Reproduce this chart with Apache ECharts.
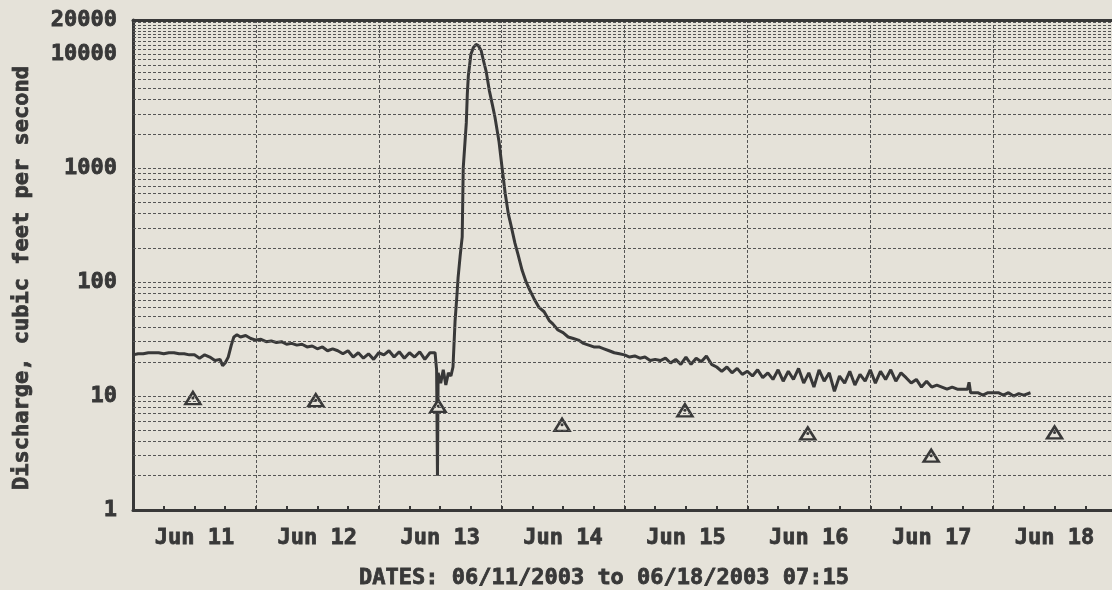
<!DOCTYPE html>
<html>
<head>
<meta charset="utf-8">
<script src="https://cdn.jsdelivr.net/npm/echarts@6/dist/echarts.min.js"></script>
<style>
  html, body { margin: 0; padding: 0; background: #e5e2d9; }
  #chart { width: 1112px; height: 590px; }
</style>
</head>
<body>
<div id="chart"></div>
<script>
// hours since 06/11/2003 00:00, discharge in cfs
const dischargeReadings = [
  [0, 23], [1, 23.5], [2, 23.5], [3, 24], [4, 24], [5, 24], [6, 23.5], [7, 24], [8, 24], [9, 23.5],
  [10, 23.5], [11, 23], [12, 23], [13, 21.5], [14, 23], [15, 22], [16, 20.5], [17, 21], [17.5, 18.5],
  [18, 19.5], [18.6, 22], [19.2, 28], [19.7, 33], [20.3, 34.5], [21, 33], [22, 34], [23, 32], [24, 31],
  [25, 31.5], [26, 30], [27, 30.5], [28, 29.5], [29, 30], [30, 28.5], [31, 29], [32, 28], [33, 28.5],
  [34, 27], [35, 27.5], [36, 26], [37, 27], [38, 25], [39, 26], [40, 25], [41, 23.5], [42, 25], [43, 22],
  [44, 24], [45, 21.5], [46, 23.5], [47, 21], [48, 24], [49, 23], [50, 25], [51, 22], [52, 24.5],
  [53, 21.5], [54, 24], [55, 22], [56, 24.5], [57, 21], [58, 24], [59, 24], [59.3, 17], [59.47, 2],
  [59.6, 16], [60.1, 13], [60.6, 17], [61.1, 12.5], [61.6, 16], [62.1, 15], [62.5, 18],
  // storm peak
  [62.9, 45], [63.3, 80], [63.5, 110], [63.9, 170], [64.3, 250], [64.5, 1000], [65.1, 2500],
  [65.3, 4500], [65.5, 6500], [66.0, 10000], [66.5, 11500], [67.0, 12200], [67.4, 12000],
  [68.0, 10800], [68.4, 9000], [69.0, 7000], [69.6, 4800], [70.2, 3600], [70.7, 2800], [71.5, 1700],
  [72.1, 1000], [72.7, 600], [73.3, 400], [73.8, 320], [74.6, 220], [75.2, 175], [76.0, 127],
  [76.8, 100], [77.5, 85], [78.3, 72], [79.3, 60], [80.3, 55], [81.3, 46],
  // recession
  [82, 43], [83, 38], [84, 36], [85, 33], [86, 32], [87, 31], [88, 29], [89, 28], [90, 27], [91, 27],
  [92, 26], [93, 25], [94, 24], [95, 23.5], [96, 23], [97, 22], [98, 22.5], [99, 21.5], [100, 22],
  [101, 20.5], [102, 21], [103, 20.5], [104, 21.5], [105, 19.5], [106, 21], [107, 19], [108, 22],
  [109, 19], [110, 21.5], [111, 20], [112, 22.5], [113, 19], [114, 18], [115, 16.5], [116, 18],
  [117, 16], [118, 17.5], [119, 15.5], [120, 16.5], [121, 15], [122, 17], [123, 14.5], [124, 16],
  [125, 14], [126, 17], [127, 13.5], [128, 16.5], [129, 14], [130, 17.5], [131, 13], [132, 16],
  [133, 12], [134, 17], [135, 13.5], [136, 16], [137, 11], [138, 15], [139, 13], [140, 16.5],
  [141, 12.5], [142, 15.5], [143, 13.5], [144, 17], [145, 13], [146, 16.5], [147, 14], [148, 17],
  [149, 13.5], [150, 16], [151, 14.5], [152, 13], [153, 14], [154, 12], [155, 13.5], [156, 12],
  [157, 12.5], [158, 12], [159, 11.5], [160, 12], [161, 11.5], [162, 11.5], [163, 11.5], [163.3, 13.2],
  [163.6, 10.7], [165, 10.7], [166, 10.2], [167, 10.7], [168, 10.7], [169, 10.7], [170, 10.2],
  [171, 10.7], [172, 10], [173, 10.5], [174, 10.2], [175.3, 10.7]
];

// field measurements (triangles)
const fieldHours = [11.7, 35.7, 59.6, 83.8, 107.8, 131.8, 155.9, 180];
const fieldCfs = [9.6, 9.2, 8.2, 5.6, 7.5, 4.7, 3.0, 4.8];

const dayLabels = ['Jun 11', 'Jun 12', 'Jun 13', 'Jun 14', 'Jun 15', 'Jun 16', 'Jun 17', 'Jun 18'];
const gridLevels = [
  2, 3, 4, 5, 6, 7, 8, 9, 10,
  20, 30, 40, 50, 60, 70, 80, 90, 100,
  200, 300, 400, 500, 600, 700, 800, 900, 1000,
  2000, 3000, 4000, 5000, 6000, 7000, 8000, 9000, 10000,
  11000, 12000, 13000, 14000, 15000, 16000, 17000, 18000, 19000
];

const ink = '#383838';
const paper = '#e5e2d9';
const gridInk = '#555';
const font = 'DejaVu Sans Mono';
const fieldPoints = fieldHours.map((h, i) => [h, fieldCfs[i]]);

const labelStyle = {
  color: ink, fontFamily: font, fontWeight: 'bold', fontSize: 22,
  textBorderColor: ink, textBorderWidth: 0.8
};

const chart = echarts.init(document.getElementById('chart'));
chart.setOption({
  backgroundColor: paper,
  animation: false,
  grid: { left: 133, top: 20, bottom: 80, right: -4, outerBoundsMode: 'none' },
  xAxis: [
    {
      type: 'value', min: 0, max: 192, interval: 6,
      axisLine: { lineStyle: { color: ink, width: 3 } },
      axisTick: { inside: true, length: 4, lineStyle: { color: ink, width: 2 } },
      axisLabel: Object.assign({
        interval: 0, margin: 17,
        formatter: v => (v % 24 === 12 ? dayLabels[(v - 12) / 24] : '')
      }, labelStyle),
      splitLine: { show: false }
    },
    {
      type: 'value', position: 'top', min: 0, max: 192, interval: 24,
      axisLine: { show: true, lineStyle: { color: ink, width: 3 } },
      axisTick: { show: false },
      axisLabel: { show: false },
      splitLine: { show: true, lineStyle: { color: gridInk, width: 1, type: [3, 2] } }
    }
  ],
  yAxis: {
    type: 'log', logBase: 10, min: 1, max: 20000,
    axisLine: { show: true, lineStyle: { color: ink, width: 3 } },
    axisTick: { show: false },
    splitLine: { show: false },
    axisLabel: Object.assign({
      margin: 16,
      formatter: v => String(Math.round(v))
    }, labelStyle)
  },
  graphic: [
    {
      type: 'text', x: 22, y: 278, rotation: Math.PI / 2,
      style: {
        text: 'Discharge, cubic feet per second', fill: ink, stroke: ink, lineWidth: 0.8,
        font: 'bold 22px "DejaVu Sans Mono"', align: 'center', verticalAlign: 'middle'
      }
    },
    {
      type: 'text', x: 604, y: 578,
      style: {
        text: 'DATES: 06/11/2003 to 06/18/2003 07:15', fill: ink, stroke: ink, lineWidth: 0.8,
        font: 'bold 22px "DejaVu Sans Mono"', align: 'center', verticalAlign: 'middle'
      }
    }
  ],
  series: [
    {
      type: 'line', data: dischargeReadings, showSymbol: false,
      lineStyle: { color: ink, width: 3 },
      markLine: {
        silent: true, symbol: ['none', 'none'], label: { show: false },
        lineStyle: { color: gridInk, width: 1, type: [3, 2] },
        data: gridLevels.map(v => ({ yAxis: v }))
      },
      z: 3
    },
    {
      type: 'scatter', data: fieldPoints, symbol: 'triangle', symbolSize: [15, 12],
      itemStyle: { color: paper, borderColor: ink, borderWidth: 2.5, opacity: 1 }, z: 4
    },
    {
      type: 'scatter', data: fieldPoints, symbol: 'circle', symbolSize: 3,
      itemStyle: { color: ink, opacity: 1 }, z: 5
    }
  ]
});
</script>
</body>
</html>
